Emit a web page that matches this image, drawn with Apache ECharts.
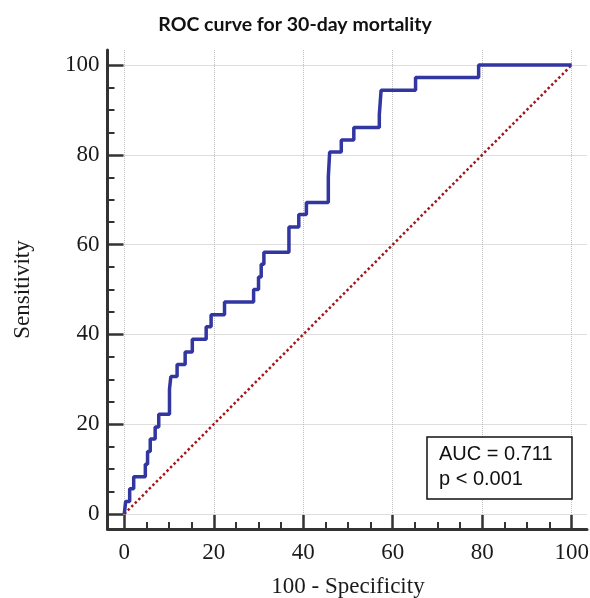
<!DOCTYPE html>
<html>
<head>
<meta charset="utf-8">
<script src="https://cdn.jsdelivr.net/npm/echarts@6/dist/echarts.min.js"></script>
<style>
html, body { margin: 0; padding: 0; background: #fff; }
#main { width: 590px; height: 598px; }
</style>
</head>
<body>
<div id="main"></div>
<script>
// ROC staircase: 100 - specificity / sensitivity
var fpr  = [0, 0.3, 1.2, 2.1, 4.7, 5.2, 5.8, 6.9, 7.7, 10.1, 10.4, 11.8, 13.6, 15.2, 18.3, 19.4, 22.4,
            28.9, 30.0, 30.6, 31.2, 36.8, 39.0, 40.7, 45.6, 45.9, 48.5, 51.3, 57.0, 57.2, 57.4, 65.1, 79.2, 100];
var sens = [0, 2.8, 5.6, 8.3, 11.1, 13.9, 16.7, 19.4, 22.2, 27.8, 30.6, 33.3, 36.1, 38.9, 41.7, 44.4, 47.2,
            50.0, 52.8, 55.6, 58.3, 63.9, 66.7, 69.4, 75.0, 80.6, 83.3, 86.1, 88.9, 91.7, 94.4, 97.2, 100, 100];
// chance line
var refX = [0, 100];
var refY = [0, 100];
var boxLines = ['AUC = 0.711', 'p < 0.001'];

// inner area is 0..100, the frame (where the axis lines sit) is a bit larger
var plot  = { left: 124.3, top: 65, width: 447.4, height: 449 };
var frame = { left: 107.5, top: 50, width: 479.5, height: 479 };
var xMin = -(plot.left - frame.left) / plot.width * 100;
var xMax = (frame.left + frame.width - plot.left) / plot.width * 100;
var yMin = -(frame.top + frame.height - plot.top - plot.height) / plot.height * 100;
var yMax = (plot.top + plot.height - frame.top) / plot.height * 100;

var rocData = fpr.map(function (x, i) { return [x, sens[i]]; });
var refData = refX.map(function (x, i) { return [x, refY[i]]; });

var axisColor = '#333';
var serif = 'Liberation Serif';
var gridLine = { show: true, showMinLine: false, showMaxLine: false,
                 lineStyle: { color: '#bdbdbd', type: 'dotted', width: 1 } };

var chart = echarts.init(document.getElementById('main'));

chart.setOption({
     animation: false,
     title: {
          text: 'ROC curve for 30-day mortality',
          left: 'center',
          top: 10,
          textStyle: { fontFamily: 'Lato', fontWeight: 'bold', fontSize: 19.5, color: '#111' }
     },
     grid: [
          { left: frame.left, top: frame.top, width: frame.width, height: frame.height, outerBoundsMode: 'none' },
          { left: plot.left, top: plot.top, width: plot.width, height: plot.height, outerBoundsMode: 'none' }
     ],
     xAxis: [{
          gridIndex: 0,
          type: 'value',
          min: xMin,
          max: xMax,
          axisLine: { show: true, onZero: false, lineStyle: { color: axisColor, width: 3 } },
          axisTick: { show: false },
          axisLabel: { show: false },
          splitLine: gridLine
     }, {
          gridIndex: 1,
          type: 'value',
          min: 0,
          max: 100,
          interval: 20,
          offset: frame.top + frame.height - plot.top - plot.height,
          axisLine: { show: false, onZero: false },
          axisTick: { show: true, inside: true, length: 14, lineStyle: { color: axisColor, width: 2.5 } },
          minorTick: { show: true, splitNumber: 4, length: 7, lineStyle: { color: axisColor, width: 2 } },
          axisLabel: { margin: 12, fontFamily: serif, fontSize: 23, color: '#1a1a1a' },
          splitLine: { show: false },
          name: '100 - Specificity',
          nameLocation: 'middle',
          nameGap: 46,
          nameTextStyle: { fontFamily: serif, fontSize: 23, color: '#1a1a1a' }
     }],
     yAxis: [{
          gridIndex: 0,
          type: 'value',
          min: yMin,
          max: yMax,
          axisLine: { show: true, onZero: false, lineStyle: { color: axisColor, width: 3 } },
          axisTick: { show: false },
          axisLabel: { show: false },
          splitLine: gridLine
     }, {
          gridIndex: 1,
          type: 'value',
          min: 0,
          max: 100,
          interval: 20,
          offset: plot.left - frame.left,
          axisLine: { show: false, onZero: false },
          axisTick: { show: true, inside: true, length: 16, lineStyle: { color: axisColor, width: 2.5 } },
          minorTick: { show: true, splitNumber: 4, length: 7, lineStyle: { color: axisColor, width: 2 } },
          axisLabel: { margin: 8, fontFamily: serif, fontSize: 23, color: '#1a1a1a' },
          splitLine: { show: false },
          name: 'Sensitivity',
          nameLocation: 'middle',
          nameGap: 73,
          nameTextStyle: { fontFamily: serif, fontSize: 23, color: '#1a1a1a' }
     }],
     series: [{
          name: 'Reference',
          type: 'line',
          xAxisIndex: 1,
          yAxisIndex: 1,
          data: refData,
          showSymbol: false,
          clip: false,
          lineStyle: { color: '#a3161a', width: 2.5, type: [2.5, 2.5] }
     }, {
          name: 'ROC',
          type: 'line',
          xAxisIndex: 1,
          yAxisIndex: 1,
          step: 'end',
          data: rocData,
          showSymbol: false,
          clip: false,
          lineStyle: { color: '#3236a0', width: 3.5 }
     }],
     graphic: [{
          type: 'rect',
          z: 100,
          shape: { x: 427, y: 437, width: 145, height: 62 },
          style: { fill: '#fff', stroke: '#111', lineWidth: 1.5 }
     }, {
          type: 'text',
          z: 101,
          x: 439,
          y: 454,
          style: { text: boxLines[0], fontFamily: 'Liberation Sans', fontSize: 20, fill: '#111', verticalAlign: 'middle' }
     }, {
          type: 'text',
          z: 101,
          x: 439,
          y: 479,
          style: { text: boxLines[1], fontFamily: 'Liberation Sans', fontSize: 20, fill: '#111', verticalAlign: 'middle' }
     }]
});
</script>
</body>
</html>
